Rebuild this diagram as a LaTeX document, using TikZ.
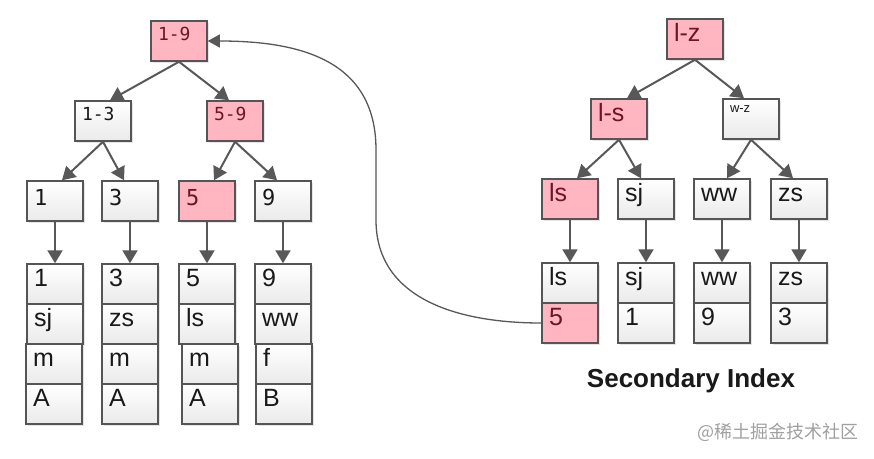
\documentclass[tikz,border=0pt]{standalone}
\usepackage{fontspec}
\setmainfont{Liberation Sans}
\newfontfamily\keymono{DejaVu Sans Mono}
\newfontfamily\cjkmark{Noto Sans CJK SC}
\usepackage{tikz}
\usetikzlibrary{arrows.meta, shadows}

\definecolor{pinkfill}{RGB}{255,182,193}
\definecolor{boxline}{RGB}{85,85,85}
\definecolor{arrowgray}{RGB}{88,88,88}
\definecolor{pinktext}{RGB}{110,20,35}
\definecolor{boxtext}{RGB}{25,25,25}
\definecolor{cellgray}{RGB}{234,234,234}
\definecolor{markgray}{RGB}{160,160,160}

\tikzset{
  box/.style={draw=boxline, line width=1.5pt, minimum width=56pt, minimum height=40pt, inner xsep=7pt, inner ysep=0pt, text width=42pt, align=left, drop shadow={shadow xshift=2pt, shadow yshift=-2pt, opacity=0.2}},
  plain/.style={box, top color=white, bottom color=cellgray, text=boxtext},
  hot/.style={box, fill=pinkfill, text=pinktext},
  rng/.style={font=\keymono\fontsize{18}{20}\selectfont, text height=19pt, text depth=21pt},
  dig/.style={font=\keymono\fontsize{22}{24}\selectfont, text height=24pt, text depth=16pt},
  word/.style={font=\fontsize{25}{28}\selectfont, text height=22pt, text depth=18pt},
  wee/.style={font=\fontsize{13}{15}\selectfont, text height=13pt, text depth=27pt},
  edge/.style={draw=arrowgray, line width=2pt, -{Triangle[length=13pt, width=15pt]}},
  link/.style={draw=arrowgray, line width=1.3pt, -{Triangle[length=12pt, width=13pt]}}
}

\begin{document}
\begin{tikzpicture}[x=1pt, y=-1pt]
\useasboundingbox[fill=white] (0,0) rectangle (874,458);

% primary tree
\node[hot, rng] (n19) at (179,41) {1-9};
\node[plain, rng] (n13) at (103,121) {1-3};
\node[hot, rng] (n59) at (235,121) {5-9};
\node[plain, dig] (n1) at (55,201) {1};
\node[plain, dig] (n3) at (130,201) {3};
\node[hot, dig] (n5) at (207,201) {5};
\node[plain, dig] (n9) at (283,201) {9};

\node[plain, word] (p1a) at (55,284) {1};
\node[plain, word] (p1b) at (55,324) {sj};
\node[plain, word] (p1c) at (54,364) {m};
\node[plain, word] (p1d) at (54,404) {A};
\node[plain, word] (p3a) at (130,284) {3};
\node[plain, word] (p3b) at (130,324) {zs};
\node[plain, word] (p3c) at (130,364) {m};
\node[plain, word] (p3d) at (130,404) {A};
\node[plain, word] (p5a) at (207,284) {5};
\node[plain, word] (p5b) at (207,324) {ls};
\node[plain, word] (p5c) at (210,364) {m};
\node[plain, word] (p5d) at (210,404) {A};
\node[plain, word] (p9a) at (283,284) {9};
\node[plain, word] (p9b) at (283,324) {ww};
\node[plain, word] (p9c) at (284,364) {f};
\node[plain, word] (p9d) at (284,404) {B};

\draw[edge] (n19.south) -- ([xshift=7pt]n13.north);
\draw[edge] (n19.south) -- ([xshift=-6pt]n59.north);
\draw[edge] (n13.south) -- ([xshift=7pt]n1.north);
\draw[edge] (n13.south) -- ([xshift=-6pt]n3.north);
\draw[edge] (n59.south) -- ([xshift=7pt]n5.north);
\draw[edge] (n59.south) -- ([xshift=-6pt]n9.north);
\draw[edge] (n1.south) -- (p1a.north);
\draw[edge] (n3.south) -- (p3a.north);
\draw[edge] (n5.south) -- (p5a.north);
\draw[edge] (n9.south) -- (p9a.north);

% secondary tree
\node[hot, word] (lz) at (695,39) {l-z};
\node[hot, word] (ltos) at (619,119) {l-s};
\node[plain, wee] (wtoz) at (751,119) {w-z};
\node[hot, word] (lfls) at (570,199) {ls};
\node[plain, word] (lfsj) at (646,199) {sj};
\node[plain, word] (lfww) at (722,199) {ww};
\node[plain, word] (lfzs) at (799,199) {zs};

\node[plain, word] (rls1) at (570,283) {ls};
\node[hot, word] (rls2) at (570,323) {5};
\node[plain, word] (rsj1) at (646,283) {sj};
\node[plain, word] (rsj2) at (646,323) {1};
\node[plain, word] (rww1) at (722,283) {ww};
\node[plain, word] (rww2) at (722,323) {9};
\node[plain, word] (rzs1) at (799,283) {zs};
\node[plain, word] (rzs2) at (799,323) {3};

\draw[edge] (lz.south) -- ([xshift=8pt]ltos.north);
\draw[edge] (lz.south) -- ([xshift=-7pt]wtoz.north);
\draw[edge] (ltos.south) -- ([xshift=7pt]lfls.north);
\draw[edge] (ltos.south) -- ([xshift=-5pt]lfsj.north);
\draw[edge] (wtoz.south) -- ([xshift=5pt]lfww.north);
\draw[edge] (wtoz.south) -- ([xshift=-6pt]lfzs.north);
\draw[edge] (lfls.south) -- (rls1.north);
\draw[edge] (lfsj.south) -- (rsj1.north);
\draw[edge] (lfww.south) -- (rww1.north);
\draw[edge] (lfzs.south) -- (rzs1.north);

\coordinate (bendlow) at (376,220);
\coordinate (bendhigh) at (376,150);
\draw[link] (rls2.west) .. controls (460,323) and (376,300) .. (bendlow) -- (bendhigh) .. controls (376,60) and (300,41) .. (n19.east);

\node[font=\bfseries\fontsize{26}{30}\selectfont, text=boxtext] (sectitle) at (691,381) {Secondary Index};
\node[font=\cjkmark\fontsize{18}{20}\selectfont, text=markgray] (wmark) at (778,432) {@稀土掘金技术社区};
\end{tikzpicture}
\end{document}
